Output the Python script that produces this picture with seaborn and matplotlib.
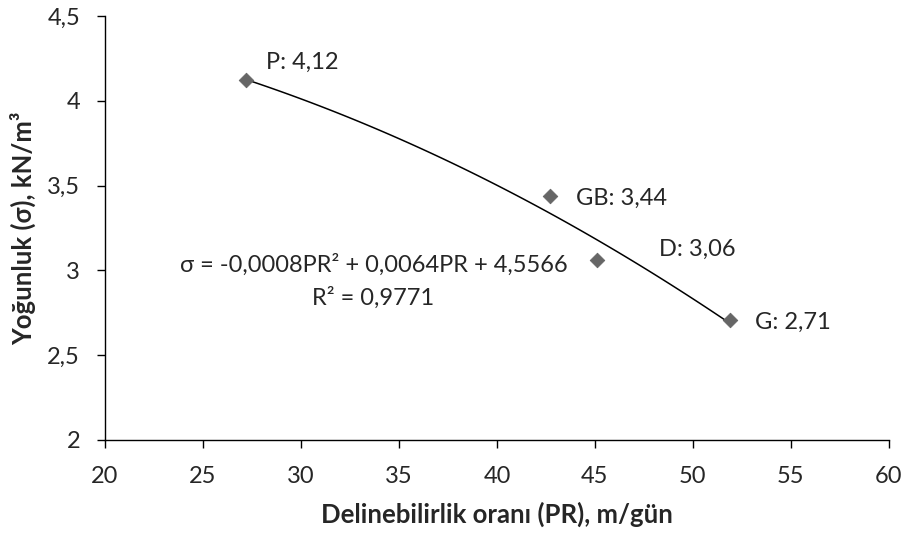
import numpy as np
import pandas as pd
import matplotlib
matplotlib.use('Agg')
import matplotlib.pyplot as plt
import seaborn as sns

# Data
labels = ['P', 'GB', 'D', 'G']
pr = [27.2, 42.7, 45.1, 51.9]
density = [4.12, 3.44, 3.06, 2.71]
label_offsets = [(14, 13), (19, -1.5), (45, 8), (18, -2)]

x_ticks = [20, 25, 30, 35, 40, 45, 50, 55, 60]
y_ticks = [2, 2.5, 3, 3.5, 4, 4.5]
y_tick_labels = ['2', '2,5', '3', '3,5', '4', '4,5']

df = pd.DataFrame({'PR': pr, 'sigma': density, 'label': labels})

sns.set_style('white')
plt.rcParams['font.family'] = ['Lato', 'DejaVu Sans']

fig = plt.figure(figsize=(9.07, 5.33), dpi=100)
ax = fig.add_axes([0.1158, 0.1745, 0.8642, 0.7955])

# second order trendline
sns.regplot(x='PR', y='sigma', data=df, order=2, ci=None, scatter=False,
            line_kws={'color': 'black', 'linewidth': 1.1}, ax=ax)
sns.scatterplot(x='PR', y='sigma', data=df, marker='D', s=55, color='#666666',
                edgecolor='#666666', zorder=3, ax=ax)

for lab, xv, yv, off in zip(labels, pr, density, label_offsets):
    ax.annotate(f'{lab}: {yv:.2f}'.replace('.', ','), (xv, yv), xytext=off,
                textcoords='offset points', fontsize=17, ha='left', va='center')

ax.text(0.0957, 0.413, 'σ = -0,0008PR² + 0,0064PR + 4,5566', transform=ax.transAxes,
        fontsize=17, ha='left', va='center')
ax.text(0.264, 0.335, 'R² = 0,9771', transform=ax.transAxes,
        fontsize=17, ha='left', va='center')

ax.set_xlim(20, 60)
ax.set_ylim(2, 4.5)
ax.set_xticks(x_ticks)
ax.set_xticklabels([str(t) for t in x_ticks])
ax.set_yticks(y_ticks)
ax.set_yticklabels(y_tick_labels)
ax.tick_params(axis='both', labelsize=17, length=6, width=1, color='black',
               direction='out', bottom=True, left=True)
ax.tick_params(axis='x', pad=13)
ax.tick_params(axis='y', pad=12)

for side in ['top', 'right']:
    ax.spines[side].set_visible(False)
for side in ['left', 'bottom']:
    ax.spines[side].set_color('black')
    ax.spines[side].set_linewidth(1)

ax.set_xlabel('Delinebilirlik oranı (PR), m/gün', fontsize=18.5, fontweight='bold', labelpad=10)
ax.set_ylabel('Yoğunluk (σ), kN/m³', fontsize=18.5, fontweight='bold', labelpad=8)

fig.savefig('out.png', dpi=100)
